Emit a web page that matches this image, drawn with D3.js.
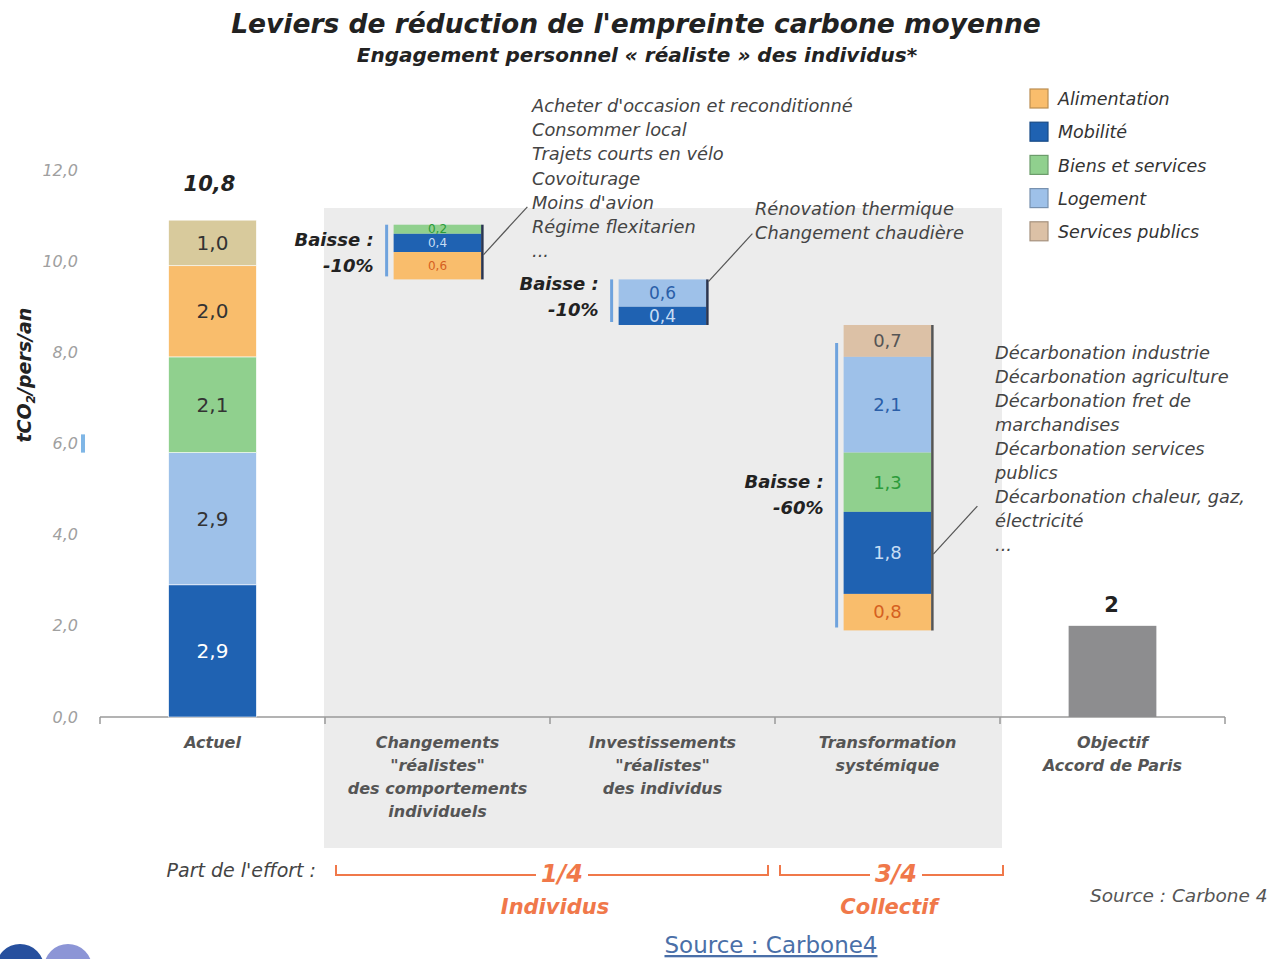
<!DOCTYPE html>
<html>
<head>
<meta charset="utf-8">
<script src="https://cdn.jsdelivr.net/npm/d3@7"></script>
<style>
  body { margin: 0; background: #fff; }
  svg { display: block; }
  text { font-family: "DejaVu Sans", sans-serif; }
</style>
</head>
<body>
<div id="chart"></div>
<script>
// --- data ---
const categories = ["Actuel", "Changements", "Investissements", "Transformation", "Objectif"];
const categoryLines = [
  ["Actuel"],
  ["Changements", "\"réalistes\"", "des comportements", "individuels"],
  ["Investissements", "\"réalistes\"", "des individus"],
  ["Transformation", "systémique"],
  ["Objectif", "Accord de Paris"]
];
const sectors = ["Alimentation", "Mobilité", "Biens et services", "Logement", "Services publics"];
const sectorColors = ["#f9bd6c", "#1f62b2", "#90d08e", "#9ec1e9", "#dcc1a6"];

// Actuel, stacked bottom -> top
const actuelSectors = ["Mobilité", "Logement", "Biens et services", "Alimentation", "Services publics"];
const actuelValues = [2.9, 2.9, 2.1, 2.0, 1.0];
const actuelTotal = 10.8;

// reductions, listed top -> bottom
const comportementsSectors = ["Biens et services", "Mobilité", "Alimentation"];
const comportementsValues = [0.2, 0.4, 0.6];
const investissementsSectors = ["Logement", "Mobilité"];
const investissementsValues = [0.6, 0.4];
const transformationSectors = ["Services publics", "Logement", "Biens et services", "Mobilité", "Alimentation"];
const transformationValues = [0.7, 2.1, 1.3, 1.8, 0.8];
const baisseLabels = ["-10%", "-10%", "-60%"];

const objectifValue = 2;
const yTicks = [0, 2, 4, 6, 8, 10, 12];

const leviersComportements = ["Acheter d'occasion et reconditionné", "Consommer local", "Trajets courts en vélo",
  "Covoiturage", "Moins d'avion", "Régime flexitarien", "..."];
const leviersInvestissements = ["Rénovation thermique", "Changement chaudière"];
const leviersTransformation = ["Décarbonation industrie", "Décarbonation agriculture", "Décarbonation fret de",
  "marchandises", "Décarbonation services", "publics", "Décarbonation chaleur, gaz,", "électricité", "..."];

// --- chart ---
const W = 1280, H = 959;
const svg = d3.select("#chart").append("svg").attr("width", W).attr("height", H);

const x = d3.scaleBand().domain(categories).range([100, 1225]);
const y = d3.scaleLinear().domain([0, 12]).range([717, 170]);
const color = d3.scaleOrdinal().domain(sectors).range(sectorColors);
const barW = x.bandwidth() * 0.39;
const barX = c => x(c) + (x.bandwidth() - barW) / 2;
const fmt = v => d3.format(".1f")(v).replace(".", ",");

// grey panel behind the three levers
svg.append("rect")
  .attr("x", x("Changements") - 1).attr("y", 208)
  .attr("width", x("Objectif") - x("Changements") + 3).attr("height", 640)
  .attr("fill", "#ececec");

// title
svg.append("text").attr("x", 636).attr("y", 33).attr("text-anchor", "middle")
  .style("font-size", "26.5px").style("font-weight", "bold").style("font-style", "italic")
  .attr("fill", "#222").text("Leviers de réduction de l'empreinte carbone moyenne");
svg.append("text").attr("x", 637).attr("y", 62).attr("text-anchor", "middle")
  .style("font-size", "20px").style("font-weight", "bold").style("font-style", "italic")
  .attr("fill", "#222").text("Engagement personnel « réaliste » des individus*");

// y axis
const yAxis = svg.append("g").attr("transform", "translate(80,0)")
  .call(d3.axisLeft(y).tickValues(yTicks).tickSize(0).tickPadding(2).tickFormat(fmt));
yAxis.select(".domain").remove();
yAxis.selectAll("text").style("font-size", "16px").style("font-style", "italic")
  .style("font-family", "\"DejaVu Sans\", sans-serif").attr("fill", "#a0a0a0");
svg.append("rect").attr("x", 81).attr("y", y(6.2)).attr("width", 4).attr("height", y(5.8) - y(6.2))
  .attr("fill", "#7fb6e6");

svg.append("text").attr("transform", `translate(31,${y(7.5)}) rotate(-90)`)
  .attr("text-anchor", "middle").style("font-size", "19px").style("font-weight", "bold")
  .style("font-style", "italic").attr("fill", "#222")
  .call(t => {
    t.append("tspan").text("tCO");
    t.append("tspan").attr("dy", 4).style("font-size", "12px").text("2");
    t.append("tspan").attr("dy", -4).text("/pers/an");
  });

// x axis line with boundary ticks
const xr = x.range();
svg.append("line").attr("x1", xr[0]).attr("x2", xr[1]).attr("y1", y(0)).attr("y2", y(0))
  .attr("stroke", "#9a9a9a").attr("stroke-width", 1.5);
svg.selectAll(".xtick").data(categories.map(c => x(c)).concat([xr[1]]))
  .join("line").attr("class", "xtick")
  .attr("x1", d => d).attr("x2", d => d).attr("y1", y(0)).attr("y2", y(0) + 7)
  .attr("stroke", "#9a9a9a").attr("stroke-width", 1.5);

// category labels
categories.forEach((c, i) => {
  svg.append("text").attr("x", x(c) + x.bandwidth() / 2).attr("y", 748).attr("text-anchor", "middle")
    .style("font-size", "16px").style("font-weight", "bold").style("font-style", "italic").attr("fill", "#555")
    .selectAll("tspan").data(categoryLines[i]).join("tspan")
    .attr("x", x(c) + x.bandwidth() / 2).attr("dy", (d, j) => j ? 23 : 0).text(d => d);
});

// Actuel stack
let acc = 0;
const actuelSegs = actuelValues.map((v, i) => {
  const s = { sector: actuelSectors[i], v, y0: acc, y1: acc + v };
  acc += v;
  return s;
});
const gA = svg.append("g");
gA.selectAll("rect").data(actuelSegs).join("rect")
  .attr("x", barX("Actuel")).attr("width", barW)
  .attr("y", d => y(d.y1)).attr("height", d => y(d.y0) - y(d.y1))
  .attr("fill", d => d.sector === "Services publics" ? "#d8ca9c" : color(d.sector))
  .attr("stroke", "#fff").attr("stroke-width", 0.6);
gA.selectAll("text").data(actuelSegs).join("text")
  .attr("x", barX("Actuel") + barW / 2).attr("y", d => y((d.y0 + d.y1) / 2)).attr("dy", "0.35em")
  .attr("text-anchor", "middle").style("font-size", "20px")
  .attr("fill", d => d.sector === "Mobilité" ? "#fff" : "#333").text(d => fmt(d.v));
svg.append("text").attr("x", barX("Actuel") + barW / 2 - 3).attr("y", 191).attr("text-anchor", "middle")
  .style("font-size", "21px").style("font-weight", "bold").style("font-style", "italic").attr("fill", "#222")
  .text(fmt(actuelTotal));

// reduction bars (waterfall)
const labelColors = { "Alimentation": "#d5601f", "Mobilité": "#c7ddf4", "Biens et services": "#2c9b3a",
  "Logement": "#2a5ea8", "Services publics": "#555" };
const reductions = [
  { cat: "Changements", sectors: comportementsSectors, values: comportementsValues, fs: 12, lead: 0.55, labOff: 0 },
  { cat: "Investissements", sectors: investissementsSectors, values: investissementsValues, fs: 17, lead: 0.05, labOff: -6 },
  { cat: "Transformation", sectors: transformationSectors, values: transformationValues, fs: 18, lead: 0.75, labOff: 16 }
];
let level = actuelTotal;
reductions.forEach((r, k) => {
  const top = level;
  const segs = r.values.map((v, i) => {
    const s = { sector: r.sectors[i], v, y1: level, y0: level - v };
    level -= v;
    return s;
  });
  const bottom = level;
  const bx = barX(r.cat);
  const g = svg.append("g");
  g.selectAll("rect").data(segs).join("rect")
    .attr("x", bx).attr("width", barW)
    .attr("y", d => y(d.y1)).attr("height", d => y(d.y0) - y(d.y1))
    .attr("fill", d => color(d.sector));
  g.selectAll("text").data(segs).join("text")
    .attr("x", bx + barW / 2).attr("y", d => y((d.y0 + d.y1) / 2)).attr("dy", "0.35em")
    .attr("text-anchor", "middle").style("font-size", r.fs + "px")
    .attr("fill", d => labelColors[d.sector]).text(d => fmt(d.v));
  // brackets
  const inset = k === 2 ? 18 : 0;
  g.append("line").attr("x1", bx - 7).attr("x2", bx - 7).attr("y1", y(top) + inset).attr("y2", y(bottom) - 3)
    .attr("stroke", "#6fa3dd").attr("stroke-width", 3);
  g.append("line").attr("x1", bx + barW + 1).attr("x2", bx + barW + 1).attr("y1", y(top)).attr("y2", y(bottom))
    .attr("stroke", k === 2 ? "#555" : "#2a3550").attr("stroke-width", 2.5);
  // leader line
  const ly = y(top) + r.lead * (y(bottom) - y(top));
  g.append("line").attr("x1", bx + barW + 2).attr("y1", ly).attr("x2", bx + barW + 46).attr("y2", ly - 48)
    .attr("stroke", "#555").attr("stroke-width", 1.2);
  // Baisse label
  const mid = (y(top) + y(bottom)) / 2 + r.labOff;
  const lab = g.append("text").attr("text-anchor", "end").style("font-size", "18px")
    .style("font-weight", "bold").style("font-style", "italic").attr("fill", "#222");
  lab.append("tspan").attr("x", bx - 20).attr("y", mid - 6).text("Baisse :");
  lab.append("tspan").attr("x", bx - 20).attr("y", mid + 20).text(baisseLabels[k]);
});

// Objectif
svg.append("rect").attr("x", barX("Objectif")).attr("width", barW)
  .attr("y", y(objectifValue)).attr("height", y(0) - y(objectifValue)).attr("fill", "#8d8d8f");
svg.append("text").attr("x", barX("Objectif") + barW / 2 - 1).attr("y", y(objectifValue) - 14)
  .attr("text-anchor", "middle").style("font-size", "21px").style("font-weight", "bold").attr("fill", "#222")
  .text(objectifValue);

// annotation blocks
function block(lines, x0, y0, step) {
  svg.append("text").style("font-size", "17.8px").style("font-style", "italic").attr("fill", "#444")
    .selectAll("tspan").data(lines).join("tspan")
    .attr("x", x0).attr("y", (d, i) => y0 + i * step).text(d => d);
}
block(leviersComportements, 532, 112, 24.2);
block(leviersInvestissements, 755, 215, 24);
block(leviersTransformation, 995, 359, 24);

// legend
const lg = svg.append("g").attr("transform", "translate(1030,89)");
lg.selectAll("rect").data(sectors).join("rect")
  .attr("x", 0).attr("y", (d, i) => i * 33.2).attr("width", 18).attr("height", 19)
  .attr("fill", d => color(d)).attr("stroke", d => d3.color(color(d)).darker(0.8)).attr("stroke-width", 1.2);
lg.selectAll("text").data(sectors).join("text")
  .attr("x", 28).attr("y", (d, i) => i * 33.2 + 10).attr("dy", "0.35em")
  .style("font-size", "17.5px").style("font-style", "italic").attr("fill", "#333").text(d => d);

// part de l'effort
const orange = "#f0784a";
svg.append("text").attr("x", 316).attr("y", 877).attr("text-anchor", "end")
  .style("font-size", "19px").style("font-style", "italic").attr("fill", "#444").text("Part de l'effort :");
function effort(x1, x2, xm, frac, label) {
  const g = svg.append("g").attr("stroke", orange).attr("stroke-width", 2).attr("fill", "none");
  g.append("path").attr("d", `M${x1},865V875H${xm - 26}M${xm + 26},875H${x2}V865`);
  svg.append("text").attr("x", xm).attr("y", 882).attr("text-anchor", "middle")
    .style("font-size", "24px").style("font-weight", "bold").style("font-style", "italic")
    .attr("fill", orange).text(frac);
  svg.append("text").attr("x", xm - 7).attr("y", 914).attr("text-anchor", "middle")
    .style("font-size", "21px").style("font-weight", "bold").style("font-style", "italic")
    .attr("fill", orange).text(label);
}
effort(336, 768, 562, "1/4", "Individus");
effort(780, 1003, 896, "3/4", "Collectif");

svg.append("text").attr("x", 1090).attr("y", 902).style("font-size", "18.5px").style("font-style", "italic")
  .attr("fill", "#555").text("Source : Carbone 4");
svg.append("text").attr("x", 771).attr("y", 953).attr("text-anchor", "middle")
  .style("font-size", "23px").style("text-decoration", "underline").attr("fill", "#4a6fa8")
  .text("Source : Carbone4");

// logo fragments, bottom left
svg.append("circle").attr("cx", 20).attr("cy", 968).attr("r", 24).attr("fill", "#27509e");
svg.append("circle").attr("cx", 68).attr("cy", 968).attr("r", 24).attr("fill", "#8c95d6");
</script>
</body>
</html>
